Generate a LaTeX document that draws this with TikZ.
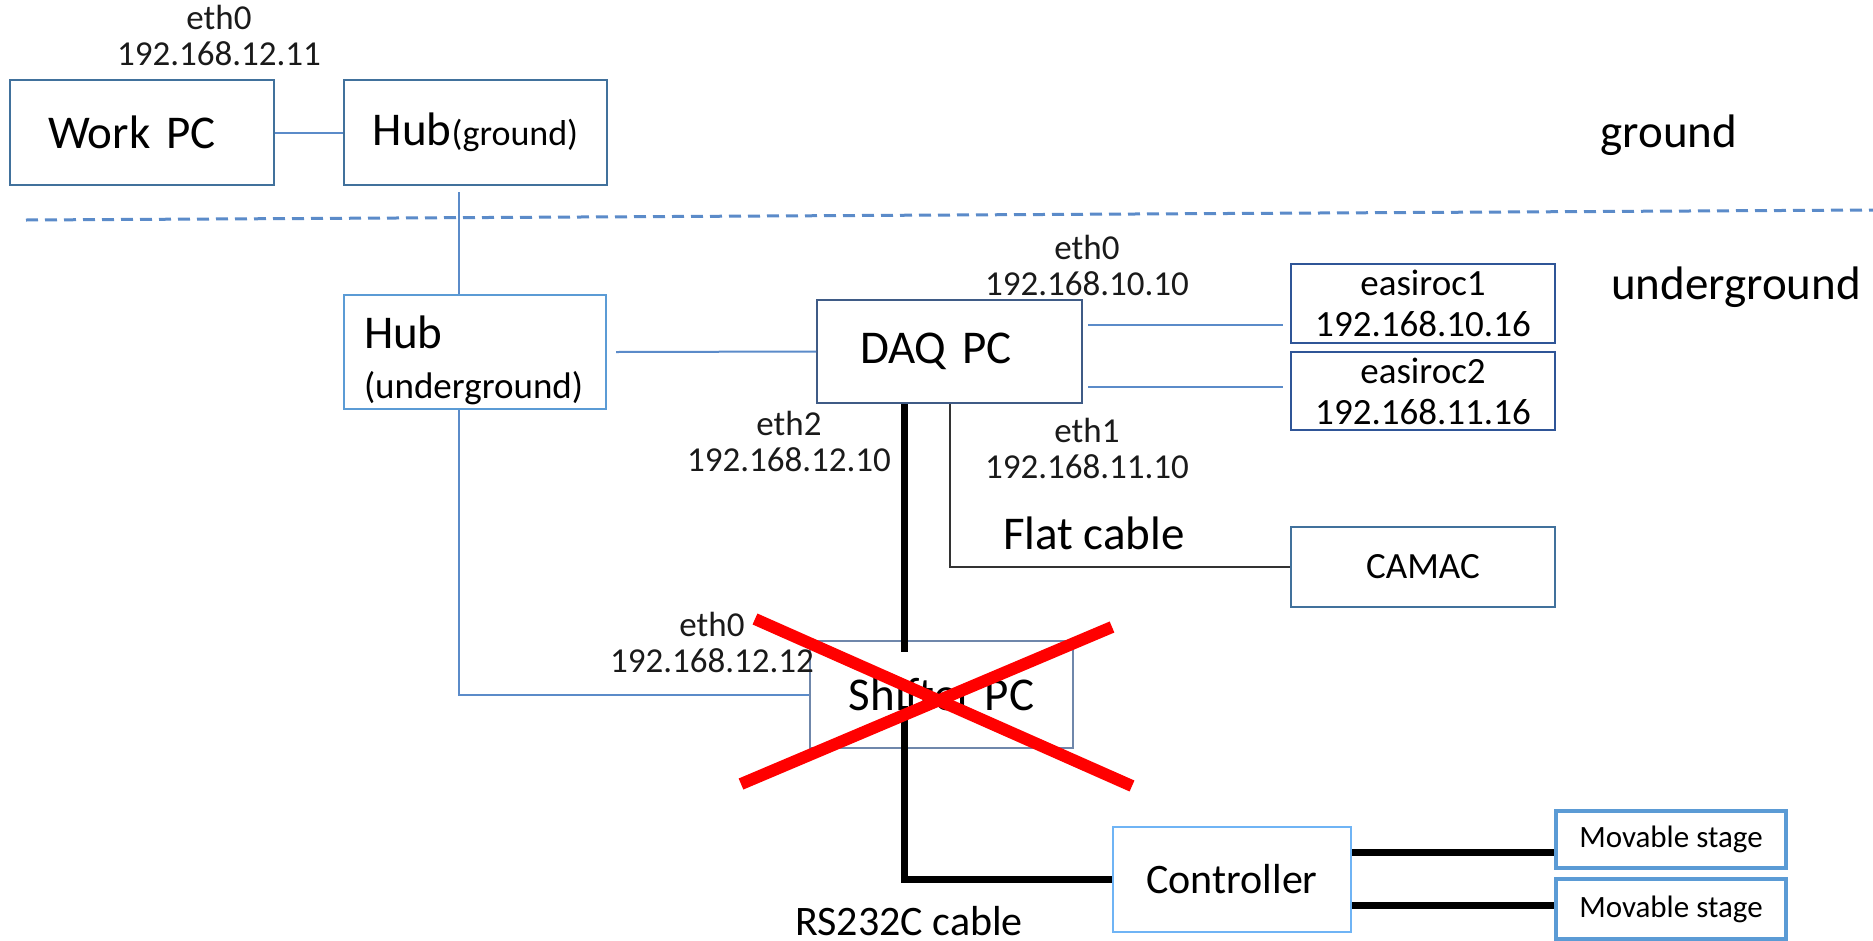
\documentclass[tikz,border=0pt]{standalone}
\usepackage{fontspec}
\setmainfont{Carlito}
\usetikzlibrary{calc}
\definecolor{boxblue}{HTML}{41719C}
\definecolor{daqblue}{HTML}{3F5B86}
\definecolor{easblue}{HTML}{2F5597}
\definecolor{hubublue}{HTML}{5B9BD5}
\definecolor{shiftblue}{HTML}{6F87AB}
\definecolor{ctrlblue}{HTML}{6FB4F5}
\definecolor{stageblue}{HTML}{5B9BD5}
\definecolor{lineblue}{HTML}{5B8BC9}
\definecolor{lbl}{HTML}{1A1A1A}
\newcommand\fsz[2]{\fontsize{#1pt}{#2pt}\selectfont}
\begin{document}
\begin{tikzpicture}[x=1pt,y=-1pt,
  box/.style={draw=boxblue,line width=2pt,inner sep=0pt,align=center},
  conn/.style={draw=lineblue,line width=2pt},
  cable/.style={draw=black,line width=7pt},
  flat/.style={draw=black!80,line width=2pt},
  cross/.style={draw=red,line width=12pt},
  dashline/.style={draw=lineblue,line width=3pt,dash pattern=on 12pt off 7pt},
  iplabel/.style={font=\fsz{35}{36},text=lbl,align=center,inner sep=0pt},
  big/.style={font=\fsz{47}{50}},
]
\useasboundingbox (0,0) rectangle (1873,940);

% boxes
\node[box,minimum width=264pt,minimum height=105pt,inner xsep=38pt,text width=188pt,align=left,font=\fsz{47}{50}] (wpc) at (142,132.5) {Work PC};
\node[box,minimum width=263pt,minimum height=105pt,font=\fsz{47}{50}] (hubg) at (475.5,132.5) {Hub{\fsz{36}{40}(ground)}};
\node[box,draw=hubublue,minimum width=262pt,minimum height=114pt] (hubu) at (475,352) {};
\node[inner sep=0pt,text width=222pt,align=left,font=\fsz{37}{50}] (hubutext) at (475,360) {{\fsz{47}{50}Hub}\\[0pt]{\fsz{37}{50}(underground)}};
\node[box,draw=daqblue,minimum width=265pt,minimum height=103pt,inner xsep=43pt,text width=179pt,align=left,font=\fsz{47}{50}] (daq) at (949.5,351.5) {DAQ PC};
\node[box,draw=easblue,minimum width=264pt,minimum height=79pt,font=\fsz{37}{41}] (eas1) at (1423,303.5) {easiroc1\\192.168.10.16};
\node[box,draw=easblue,minimum width=264pt,minimum height=78pt,font=\fsz{37}{41}] (eas2) at (1423,391) {easiroc2\\192.168.11.16};
\node[box,minimum width=264pt,minimum height=80pt,font=\fsz{37}{41}] (camac) at (1423,567) {CAMAC};
\node[box,draw=shiftblue,minimum width=263pt,minimum height=107pt] (shifter) at (941.5,694.5) {};
\node[box,draw=ctrlblue,minimum width=238pt,minimum height=105pt,font=\fsz{42}{46}] (ctrl) at (1232,879.5) {Controller};
\node[box,draw=stageblue,line width=4pt,minimum width=230pt,minimum height=57pt,font=\fsz{31}{34}] (st1) at (1671,839.5) {Movable stage};
\node[box,draw=stageblue,line width=4pt,minimum width=230pt,minimum height=60pt,font=\fsz{31}{34}] (st2) at (1671,909) {Movable stage};

% area labels
\node[big,inner sep=0pt] (lground) at (1669,135) {ground};
\node[big,inner sep=0pt] (lunder) at (1736,287) {underground};

% IP labels
\node[iplabel] (ipw) at (219,35.5) {eth0\\192.168.12.11};
\node[iplabel] (ipd0) at (1087,265) {eth0\\192.168.10.10};
\node[iplabel] (ipd1) at (1087,448.5) {eth1\\192.168.11.10};
\node[iplabel] (ipd2) at (789,441) {eth2\\192.168.12.10};
\node[iplabel] (ips) at (712,642.5) {eth0\\192.168.12.12};
\node[big,inner sep=0pt] (lflat) at (1094,533) {Flat cable};
\node[font=\fsz{42}{46},inner sep=0pt] (lrs) at (909,921) {RS232C cable};

% dashed boundary
\draw[dashline] (26,220) -- (1873,210);

% network connectors
\draw[conn] (wpc.east) -- (hubg.west);
\draw[conn] ([xshift=-16.5pt,yshift=-6pt]hubg.south) -- ([xshift=-16pt]hubu.north);
\draw[conn] ([xshift=9pt]hubu.east) -- (daq.west);
\draw[conn] ([xshift=-16pt]hubu.south) |- (shifter.west);
\draw[conn] ([xshift=5pt,yshift=26.5pt]daq.east) -- ([xshift=-7pt,yshift=-21.5pt]eas1.west);
\draw[conn] ([xshift=5pt,yshift=-35.5pt]daq.east) -- ([xshift=-7pt,yshift=4pt]eas2.west);
\draw[flat] ([xshift=0.5pt]daq.south) |- (camac.west);

% cables
\draw[cable] ([xshift=-45.5pt]daq.south) -- ++(0,248);
\draw[cable] ([xshift=-45.5pt]daq.south) ++(0,302) |- (ctrl.west);
\draw[cable] ([yshift=27.5pt]ctrl.east) -- ([yshift=-12.5pt]st1.west);
\draw[cable] ([yshift=-25.5pt]ctrl.east) -- ([yshift=4pt]st2.west);

% shifter text
\node[font=\fsz{47}{50},inner sep=0pt] (shiftertext) at (shifter) {Shifter PC};

% red cross
\draw[cross] (755,619) -- (1132,786);
\draw[cross] (741,784) -- (1112,627);
\end{tikzpicture}
\end{document}
